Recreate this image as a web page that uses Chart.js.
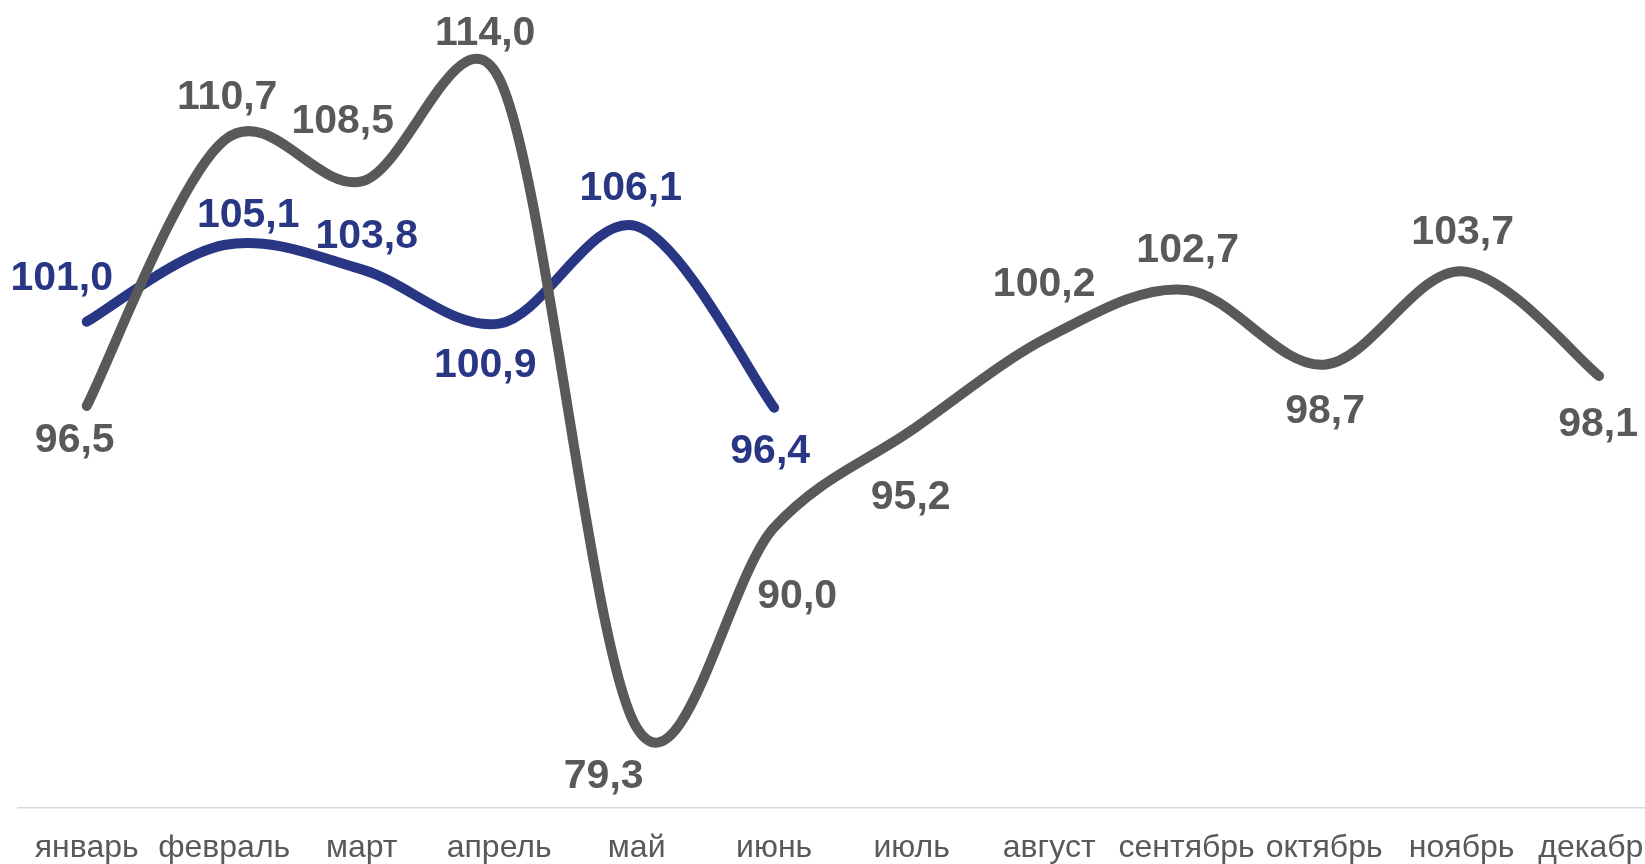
<!DOCTYPE html>
<html><head><meta charset="utf-8">
<script src="https://cdn.jsdelivr.net/npm/chart.js@4.4.1/dist/chart.umd.min.js"></script>
<style>
html,body{margin:0;padding:0;background:#fff;overflow:hidden;width:1645px;height:864px}
#wrap{position:absolute;left:0;top:0;width:1681px;height:864px}
</style>
</head><body>
<div id="wrap"><canvas id="c"></canvas></div>
<script>
// ---- data ----
const months = ['январь','февраль','март','апрель','май','июнь','июль','август','сентябрь','октябрь','ноябрь','декабрь'];
const prevYearValues = [96.5, 110.7, 108.5, 114.0, 79.3, 90.0, 95.2, 100.2, 102.7, 98.7, 103.7, 98.1];
const currYearValues = [101.0, 105.1, 103.8, 100.9, 106.1, 96.4];

// ---- label placement (style) ----
const prevLabelOffsets = [[-12,32],[3,-46],[-19,-63],[-14,-48],[-33,46],[23,66],[-1,64],[-5,-55],[1,-42],[1,44],[1,-42],[-1,46]];
const currLabelOffsets = [[-25,-46],[24,-33],[5,-36],[-14,39],[-6,-41],[-4,41]];

const fmt = v => v.toFixed(1).replace('.', ',');

// Excel-like smoothing: Catmull-Rom control points (factor 1/6),
// each handle limited to half of its adjacent segment
const smoothPlugin = {
  id: 'excelSmooth',
  beforeDatasetsDraw(chart) {
    const k = 1 / 6;
    const dist = (p, q) => Math.hypot(q.x - p.x, q.y - p.y);
    chart.data.datasets.forEach((ds, di) => {
      const meta = chart.getDatasetMeta(di);
      const line = meta.dataset;
      if (!line) return;
      line.updateControlPoints(chart.chartArea, 'x');
      const pts = meta.data;
      const n = pts.length;
      for (let i = 0; i < n; i++) {
        const p = pts[i];
        const a = pts[Math.max(0, i - 1)];
        const b = pts[Math.min(n - 1, i + 1)];
        const tx = (b.x - a.x) * k, ty = (b.y - a.y) * k;
        const len = Math.hypot(tx, ty) || 1;
        const s1 = Math.min(1, (dist(a, p) / 2) / len);
        const s2 = Math.min(1, (dist(p, b) / 2) / len);
        p.cp1x = p.x - tx * s1; p.cp1y = p.y - ty * s1;
        p.cp2x = p.x + tx * s2; p.cp2y = p.y + ty * s2;
      }
    });
  }
};

const labelPlugin = {
  id: 'valueLabels',
  afterDatasetsDraw(chart) {
    const ctx = chart.ctx;
    ctx.save();
    ctx.font = 'bold 41px "Liberation Sans", Arial, sans-serif';
    ctx.textAlign = 'center';
    ctx.textBaseline = 'alphabetic';
    chart.data.datasets.forEach((ds, di) => {
      const meta = chart.getDatasetMeta(di);
      const offs = ds.labelOffsets;
      meta.data.forEach((pt, i) => {
        const v = ds.data[i];
        if (v == null) return;
        const o = offs[i] || [0, -42];
        ctx.fillStyle = ds.labelColor;
        ctx.fillText(fmt(v), pt.x + o[0], pt.y + o[1] + 14.5);
      });
    });
    ctx.restore();
  }
};

new Chart(document.getElementById('c'), {
  type: 'line',
  data: {
    labels: months,
    datasets: [
      {
        label: 'prev',
        data: prevYearValues,
        borderColor: '#595959',
        labelColor: '#595959',
        labelOffsets: prevLabelOffsets,
        borderWidth: 10,
        borderCapStyle: 'round',
        borderJoinStyle: 'round',
        tension: 0.33,
        pointRadius: 0,
        fill: false
      },
      {
        label: 'curr',
        data: currYearValues,
        borderColor: '#283683',
        labelColor: '#283683',
        labelOffsets: currLabelOffsets,
        borderWidth: 10,
        borderCapStyle: 'round',
        borderJoinStyle: 'round',
        tension: 0.33,
        pointRadius: 0,
        fill: false
      }
    ]
  },
  options: {
    responsive: true,
    maintainAspectRatio: false,
    animation: false,
    layout: { padding: { left: 18, right: 0, top: 0, bottom: 0 } },
    plugins: { legend: { display: false }, tooltip: { enabled: false } },
    scales: {
      x: {
        offset: true,
        grid: { display: false, drawTicks: false },
        border: { display: true, color: '#d9d9d9', width: 1.5 },
        ticks: {
          color: '#595959',
          font: { family: '"Liberation Sans", Arial, sans-serif', size: 32 },
          padding: 21,
          maxRotation: 0,
          autoSkip: false
        },
        afterFit(scale) { scale.height = 56; }
      },
      y: { display: false, min: 75, max: 118.2 }
    }
  },
  plugins: [smoothPlugin, labelPlugin]
});
</script>
</body></html>
